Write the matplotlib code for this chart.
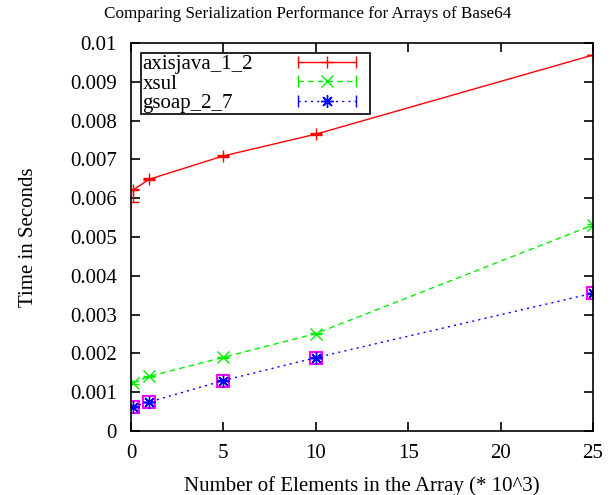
import matplotlib
matplotlib.use("Agg")
import matplotlib.pyplot as plt
from matplotlib.lines import Line2D
from matplotlib.legend_handler import HandlerBase

# array sizes (* 10^3)
sizes = [0.1, 1, 5, 10, 25]

axisjava = [0.00621, 0.00649, 0.00709, 0.00765, 0.00969]
axisjava_lo = [0.0059, 0.00646, 0.00706, 0.00762, 0.00968]
axisjava_hi = [0.00624, 0.00652, 0.00712, 0.00768, 0.00970]

xsul = [0.00124, 0.00141, 0.00190, 0.00251, 0.00531]
xsul_lo = [0.00120, 0.00139, 0.00188, 0.00249, 0.00529]
xsul_hi = [0.00128, 0.00143, 0.00192, 0.00253, 0.00533]

gsoap = [0.00063, 0.00075, 0.00130, 0.00189, 0.00355]
gsoap_lo = [0.00061, 0.00074, 0.00129, 0.00188, 0.00354]
gsoap_hi = [0.00065, 0.00076, 0.00131, 0.00190, 0.00356]

ASTERISK = (8, 2, 0)
SAMPLE_LEN = 2.8
HANDLE_LEN = 3.4


class HandlerErrLine(HandlerBase):
    # gnuplot style key sample: line with end caps and a point in the middle,
    # leaving a little blank room before the key frame
    def __init__(self, dash):
        super().__init__()
        self.dash = dash

    def create_artists(self, legend, orig_handle, xdescent, ydescent,
                       width, height, fontsize, trans):
        y = height / 2 - ydescent
        x0 = -xdescent
        x1 = x0 + width * SAMPLE_LEN / HANDLE_LEN
        c = orig_handle.get_color()
        line = Line2D([x0, x1], [y, y], color=c, lw=1)
        if self.dash is not None:
            line.set_dashes(self.dash)
        caps = Line2D([x0, x1], [y, y], ls='none', marker='|', ms=8,
                      mec=c, mew=1)
        mid = Line2D([(x0 + x1) / 2], [y], ls='none',
                     marker=orig_handle.get_marker(), ms=9, mec=c, mew=1)
        for a in (line, caps, mid):
            a.set_transform(trans)
        return [line, caps, mid]


def err(vals, lo, hi):
    return [[v - l for v, l in zip(vals, lo)], [h - v for v, h in zip(vals, hi)]]


plt.rcParams.update({'font.family': 'Liberation Serif'})

fig = plt.figure(figsize=(6.16, 4.95), dpi=100)
ax = fig.add_axes([131 / 616, 1 - 431 / 495, (593 - 131) / 616, (431 - 43) / 495])

series = [
    ('axisjava_1_2', axisjava, axisjava_lo, axisjava_hi, '#ff0000', '+', None),
    ('xsul', xsul, xsul_lo, xsul_hi, '#00ee00', 'x', (4, 3)),
    ('gsoap_2_7', gsoap, gsoap_lo, gsoap_hi, '#0000ff', ASTERISK, (1.5, 3)),
]

handles = []
hmap = {}
for name, vals, lo, hi, col, mk, dash in series:
    eb = ax.errorbar(sizes, vals, yerr=err(vals, lo, hi), color=col, lw=1,
                     marker=mk, ms=9, mew=1, capsize=4, elinewidth=1,
                     label=name)
    if dash is not None:
        eb[0].set_dashes(dash)
    handles.append(eb[0])
    hmap[eb[0]] = HandlerErrLine(dash)

ax.plot(sizes, gsoap, ls='none', marker='s', ms=9, mfc='none',
        mec='#ff00ff', mew=1.5, zorder=1)

ax.set_xlim(0, 25)
ax.set_ylim(0, 0.01)
ax.set_xticks([0, 5, 10, 15, 20, 25])
ax.set_yticks([i / 1000 for i in range(11)])
ax.set_yticklabels(['0'] + ['%g' % (i / 1000) for i in range(1, 11)])
ax.tick_params(direction='in', length=6.5, width=1.2, top=True, right=True,
               labelsize=15)
ax.tick_params(axis='y', pad=10)
ax.tick_params(axis='x', pad=9)
for s in ax.spines.values():
    s.set_linewidth(1.2)

ax.set_xlabel('Number of Elements in the Array (* 10^3)', fontsize=15, labelpad=10)
ax.set_ylabel('Time in Seconds', fontsize=15, labelpad=23)
fig.suptitle('Comparing Serialization Performance for Arrays of Base64',
             fontsize=12.3, y=0.988)

leg = ax.legend(handles, [s[0] for s in series], handler_map=hmap,
                loc='upper left', markerfirst=False, fontsize=15,
                fancybox=False, framealpha=1, edgecolor='black',
                handlelength=HANDLE_LEN, handletextpad=2.6, borderaxespad=0.5,
                borderpad=0.05, labelspacing=0.0)
leg.get_frame().set_linewidth(1.2)

# gnuplot key: labels left aligned, samples flush right
for col in leg._legend_handle_box.get_children():
    col.align = 'left'
    for row in col.get_children():
        row.mode = 'expand'
        row.width = 226

fig.savefig('out.png', dpi=100)
